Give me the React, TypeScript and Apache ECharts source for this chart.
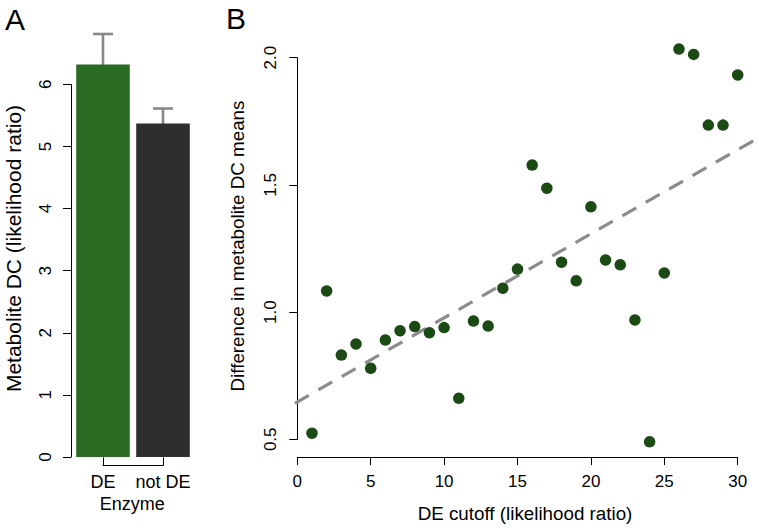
import React, { useEffect, useRef } from "react";
import * as echarts from "echarts";

// Panel A data
const enzymeCats = ["DE", "not DE"];
const barValues = [6.32, 5.37];
const errLow = [5.82, 5.16];
const errHigh = [6.81, 5.61];
const barColors = ["#2b6a22", "#2e2e2e"];

// Panel B data
const cutoffs = [1, 2, 3, 4, 5, 6, 7, 8, 9, 10, 11, 12, 13, 14, 15, 16, 17, 18, 19, 20, 21, 22, 23, 24, 25, 26, 27, 28, 29, 30];
const diffMeans = [
  0.524, 1.083, 0.831, 0.875, 0.779, 0.89, 0.927, 0.943, 0.919, 0.939,
  0.661, 0.965, 0.945, 1.094, 1.169, 1.578, 1.487, 1.196, 1.123, 1.414,
  1.205, 1.186, 0.969, 0.49, 1.154, 2.034, 2.013, 1.735, 1.735, 1.932,
];
const fitX = [-0.16, 31.06];
const fitY = [0.6415, 1.6733];

const FONT = "'Liberation Sans', Arial, Helvetica, sans-serif";

export default function App() {
  const ref = useRef<HTMLDivElement>(null);
  useEffect(() => {
    if (!ref.current) return;
    const chart = echarts.init(ref.current, undefined, { renderer: "svg" });
    const axisLine = { show: true, lineStyle: { color: "#000", width: 1 } };
    const option: any = {
      animation: false,
      backgroundColor: "#fff",
      textStyle: { fontFamily: FONT },
      grid: [
        { left: 73, width: 120, top: 84.3, height: 372.7 },
        { left: 103, width: 60, top: 400, height: 65.7 },
        { left: 297.3, width: 440.4, top: 57.7, height: 381.6 },
      ],
      xAxis: [
        { type: "category", gridIndex: 0, data: enzymeCats, show: false },
        {
          type: "category",
          gridIndex: 1,
          data: enzymeCats,
          boundaryGap: false,
          axisLine,
          axisTick: { show: true, inside: true, length: 8.3, lineStyle: { color: "#000" } },
          axisLabel: { interval: 0, margin: 7, color: "#000", fontSize: 18, fontFamily: FONT },
          splitLine: { show: false },
        },
        {
          type: "value",
          gridIndex: 2,
          min: 0,
          max: 30,
          interval: 5,
          offset: 18.3,
          axisLine,
          axisTick: { show: true, length: 7.5, lineStyle: { color: "#000" } },
          axisLabel: { margin: 15, color: "#000", fontSize: 17, fontFamily: FONT },
          splitLine: { show: false },
        },
      ],
      yAxis: [
        {
          type: "value",
          gridIndex: 0,
          min: 0,
          max: 6,
          interval: 1,
          offset: 2,
          axisLine,
          axisTick: { show: true, length: 8, lineStyle: { color: "#000" } },
          axisLabel: { rotate: 90, margin: 17, color: "#000", fontSize: 17, fontFamily: FONT },
          splitLine: { show: false },
        },
        { type: "value", gridIndex: 1, show: false },
        {
          type: "value",
          gridIndex: 2,
          min: 0.5,
          max: 2,
          interval: 0.5,
          offset: 2.3,
          axisLine,
          axisTick: { show: true, length: 8, lineStyle: { color: "#000" } },
          axisLabel: {
            rotate: 90,
            margin: 16,
            color: "#000",
            fontSize: 17,
            fontFamily: FONT,
            formatter: (v: number) => v.toFixed(1),
          },
          splitLine: { show: false },
        },
      ],
      series: [
        {
          type: "bar",
          xAxisIndex: 0,
          yAxisIndex: 0,
          clip: false,
          barWidth: 53.6,
          data: barValues.map((v, i) => ({ value: v, itemStyle: { color: barColors[i] } })),
        },
        {
          type: "custom",
          xAxisIndex: 0,
          yAxisIndex: 0,
          clip: false,
          data: enzymeCats.map((_, i) => [i, errLow[i], errHigh[i]]),
          renderItem: (params: any, api: any) => {
            const lo = api.coord([api.value(0), api.value(1)]);
            const hi = api.coord([api.value(0), api.value(2)]);
            const hw = 10;
            const style = { stroke: "#888888", lineWidth: 2.6, fill: "none" };
            return {
              type: "group",
              children: [
                { type: "line", shape: { x1: lo[0], y1: lo[1], x2: hi[0], y2: hi[1] }, style },
                { type: "line", shape: { x1: lo[0] - hw, y1: lo[1], x2: lo[0] + hw, y2: lo[1] }, style },
                { type: "line", shape: { x1: hi[0] - hw, y1: hi[1], x2: hi[0] + hw, y2: hi[1] }, style },
              ],
            };
          },
        },
        {
          type: "custom",
          xAxisIndex: 2,
          yAxisIndex: 2,
          clip: false,
          data: [[fitX[0], fitY[0], fitX[1], fitY[1]]],
          renderItem: (params: any, api: any) => {
            const p1 = api.coord([api.value(0), api.value(1)]);
            const p2 = api.coord([api.value(2), api.value(3)]);
            return {
              type: "line",
              shape: { x1: p1[0], y1: p1[1], x2: p2[0], y2: p2[1] },
              style: { stroke: "#8c8c8c", lineWidth: 3.2, lineDash: [16, 10.95], fill: "none" },
            };
          },
          z: 1,
        },
        {
          type: "scatter",
          xAxisIndex: 2,
          yAxisIndex: 2,
          clip: false,
          symbolSize: 11.5,
          itemStyle: { color: "#1b4a15", opacity: 1 },
          data: cutoffs.map((x, i) => [x, diffMeans[i]]),
          z: 3,
        },
      ],
      graphic: [
        { type: "text", x: 5, y: 19.2, style: { text: "A", font: `30px ${FONT}`, fill: "#000", align: "left", verticalAlign: "middle" } },
        { type: "text", x: 226, y: 18.8, style: { text: "B", font: `30px ${FONT}`, fill: "#000", align: "left", verticalAlign: "middle" } },
        { type: "text", x: 132.2, y: 503.7, style: { text: "Enzyme", font: `18px ${FONT}`, fill: "#000", align: "center", verticalAlign: "middle" } },
        { type: "text", x: 525, y: 513, style: { text: "DE cutoff (likelihood ratio)", font: `18.8px ${FONT}`, fill: "#000", align: "center", verticalAlign: "middle" } },
        { type: "text", x: 13.3, y: 248.5, rotation: Math.PI / 2, style: { text: "Metabolite DC (likelihood ratio)", font: `21px ${FONT}`, fill: "#000", align: "center", verticalAlign: "middle" } },
        { type: "text", x: 237.5, y: 246, rotation: Math.PI / 2, style: { text: "Difference in metabolite DC means", font: `18.8px ${FONT}`, fill: "#000", align: "center", verticalAlign: "middle" } },
      ],
    };
    chart.setOption(option);
    return () => chart.dispose();
  }, []);
  return (
    <div
      ref={ref}
      style={{ position: "absolute", left: 0, top: 0, width: 759, height: 528 }}
    />
  );
}
